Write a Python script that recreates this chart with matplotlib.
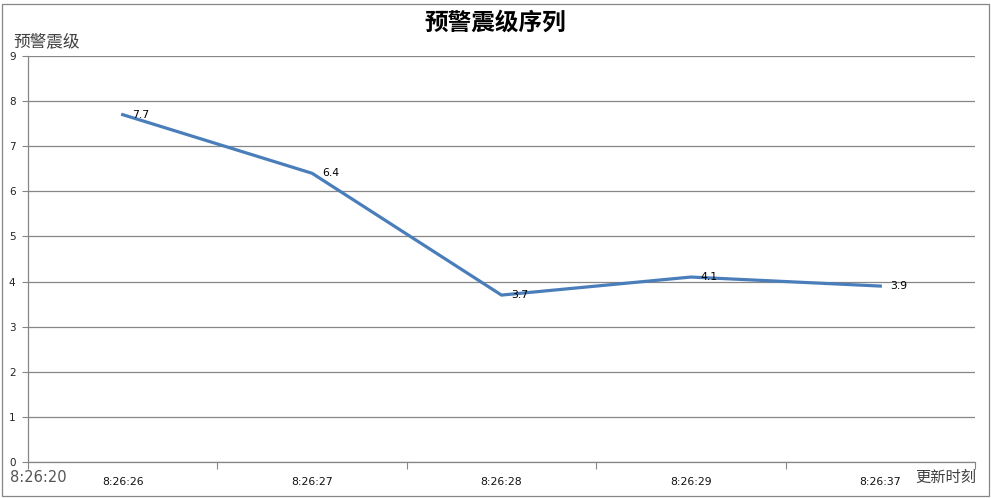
import matplotlib
matplotlib.use("Agg")
import matplotlib.pyplot as plt
from matplotlib.patches import Rectangle
import numpy as np

plt.rcParams['font.family'] = ['Noto Sans CJK SC', 'DejaVu Sans']

times = ["8:26:26", "8:26:27", "8:26:28", "8:26:29", "8:26:37"]
magnitudes = [7.7, 6.4, 3.7, 4.1, 3.9]
y_ticks = [0, 1, 2, 3, 4, 5, 6, 7, 8, 9]
title = "预警震级序列"
y_label = "预警震级"
x_label = "更新时刻"
start_time = "8:26:20"

W, H = 991, 498
fig = plt.figure(figsize=(W / 100, H / 100), dpi=100)
ax = fig.add_axes([28 / W, 36 / H, (975 - 28) / W, (462 - 56) / H])

x = np.arange(len(times))
ax.plot(x, magnitudes, color="#4a7ebb", linewidth=2.3, solid_joinstyle="round", zorder=3)
for xi, v in zip(x, magnitudes):
    ax.annotate(f"{v}", (xi, v), xytext=(7, 0), textcoords="offset points",
                ha="left", va="center", fontsize=7.8, color="black",
                family=["DejaVu Sans"], zorder=4)

ax.set_xlim(-0.5, len(times) - 0.5)
ax.set_ylim(0, 9)
ax.set_yticks(y_ticks)
ax.set_yticklabels([str(t) for t in y_ticks], fontsize=7.5, color="#222222", family=["DejaVu Sans"])
ax.tick_params(axis="y", length=4, color="#868686", pad=5, width=0.8)
ax.grid(axis="y", color="#868686", linewidth=0.9)
ax.set_axisbelow(True)

ax.set_xticks(x)
ax.set_xticklabels(times, fontsize=7.8, color="#111111", family=["DejaVu Sans"])
ax.tick_params(axis="x", which="major", length=0, pad=11)
ax.set_xticks(np.arange(-0.5, len(times), 1.0), minor=True)
ax.tick_params(axis="x", which="minor", length=5, color="#868686", width=0.8)

for s in ["top", "right"]:
    ax.spines[s].set_visible(False)
for s in ["left", "bottom"]:
    ax.spines[s].set_color("#868686")
    ax.spines[s].set_linewidth(0.9)

fig.text(495 / W, 1 - 23 / H, title, ha="center", va="center", fontsize=17,
         fontweight="bold", color="black")
fig.text(13 / W, 1 - 42 / H, y_label, ha="left", va="center", fontsize=12, color="#404040")
fig.text(976 / W, 1 - 477 / H, x_label, ha="right", va="center", fontsize=11, color="#404040")
fig.text(10 / W, 1 - 477 / H, start_time, ha="left", va="center", fontsize=10.5,
         color="#555555", family=["DejaVu Sans"])

fig.patches.append(Rectangle((2 / W, 2 / H), (W - 4) / W, (H - 6) / H, transform=fig.transFigure,
                             fill=False, edgecolor="#868686", linewidth=0.9))

fig.savefig("out.png", dpi=100, facecolor="white")
